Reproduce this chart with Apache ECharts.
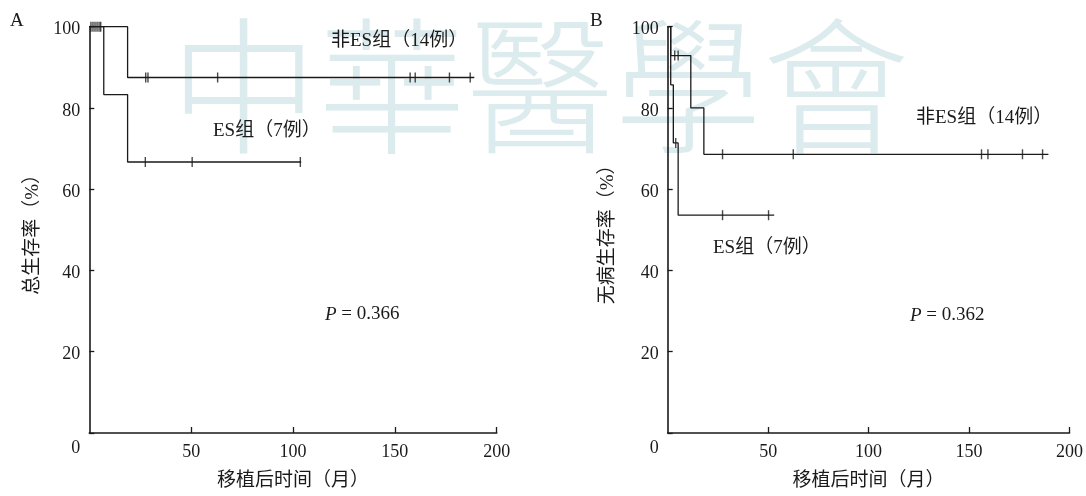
<!DOCTYPE html>
<html>
<head>
<meta charset="utf-8">
<script src="https://cdn.jsdelivr.net/npm/echarts@6/dist/echarts.min.js"></script>
<style>
html,body{margin:0;padding:0;background:#fff;}
#chart{width:1086px;height:496px;}
</style>
</head>
<body>
<div id="chart"></div>
<script>
// ---- Data ----
var xTicks = [0, 50, 100, 150, 200];
var yTicks = [0, 20, 40, 60, 80, 100];

// Panel A: overall survival
var osNonES = [[0, 100], [18.8, 87.5], [189, 87.5]];
var osNonESCensor = [[0.8, 100], [1.8, 100], [2.8, 100], [3.8, 100], [4.8, 100], [5.6, 100],
  [27.7, 87.5], [28.8, 87.5], [63, 87.5], [157.5, 87.5], [160, 87.5], [176.8, 87.5], [187, 87.5]];
var osES = [[0, 100], [7.1, 83.3], [18.8, 66.7], [104, 66.7]];
var osESCensor = [[27.5, 66.7], [50.5, 66.7], [103.6, 66.7]];

// Panel B: disease-free survival
var dfsNonES = [[0, 100], [1.5, 92.9], [11.5, 80], [18, 68.6], [189.5, 68.6]];
var dfsNonESCensor = [[3.5, 92.9], [5.2, 92.9], [27.3, 68.6], [62.5, 68.6], [156.2, 68.6],
  [159.4, 68.6], [176.6, 68.6], [186.6, 68.6]];
var dfsES = [[0, 100], [1.5, 85.7], [2.8, 71.4], [5.2, 53.6], [53, 53.6]];
var dfsESCensor = [[4, 71.4], [27.3, 53.6], [50.2, 53.6]];

var panelLetters = ['A', 'B'];
var yNames = ['总生存率（%）', '无病生存率（%）'];
var xName = '移植后时间（月）';
var nonESLabel = '非ES组（14例）';
var esLabel = 'ES组（7例）';
var pValues = ['0.366', '0.362'];

// ---- Styling ----
var INK = '#1a1a1a';
var FONT = '"Liberation Serif", "Noto Sans CJK SC", serif';

var chart = echarts.init(document.getElementById('chart'));

function xAxisDef(idx) {
  return {
    type: 'value', gridIndex: idx, min: xTicks[0], max: xTicks[xTicks.length - 1],
    interval: xTicks[1] - xTicks[0],
    name: xName, nameLocation: 'middle', nameGap: 39,
    nameTextStyle: {fontFamily: FONT, fontSize: 19, color: INK},
    axisLine: {show: true, lineStyle: {color: INK, width: 1.6}},
    axisTick: {show: true, inside: true, length: 6, lineStyle: {color: INK, width: 1.3}},
    axisLabel: {showMinLabel: false, margin: 10, fontFamily: FONT, fontSize: 18, color: INK},
    splitLine: {show: false}
  };
}
function yAxisDef(idx, gap) {
  return {
    type: 'value', gridIndex: idx, min: yTicks[0], max: yTicks[yTicks.length - 1],
    interval: yTicks[1] - yTicks[0],
    name: yNames[idx], nameLocation: 'middle', nameGap: gap, nameRotate: 90,
    nameTextStyle: {fontFamily: FONT, fontSize: 19, color: INK},
    axisLine: {show: true, lineStyle: {color: INK, width: 1.6}},
    axisTick: {show: true, inside: true, length: 5, lineStyle: {color: INK, width: 1.3}},
    axisLabel: {
      margin: 9, fontFamily: FONT, fontSize: 18, color: INK,
      formatter: function (v) { return v === 0 ? '{z|0}' : '{n|' + v + '}'; },
      rich: {
        z: {fontFamily: FONT, fontSize: 18, color: INK, padding: [30, 0, 0, 0]},
        n: {fontFamily: FONT, fontSize: 18, color: INK, padding: [6, 0, 0, 0]}
      }
    },
    splitLine: {show: false}
  };
}
function stepLine(idx, data) {
  return {
    type: 'line', xAxisIndex: idx, yAxisIndex: idx, step: 'end', data: data,
    symbol: 'none', lineStyle: {color: INK, width: 1.3}, silent: true, z: 3
  };
}
function censor(idx, data) {
  return {
    type: 'scatter', xAxisIndex: idx, yAxisIndex: idx, data: data,
    symbol: 'rect', symbolSize: [1.4, 10], itemStyle: {color: INK}, silent: true, z: 4
  };
}

function label(x, y, s) {
  return {type: 'text', left: x, top: y, z: 10,
    style: {text: s, fontFamily: FONT, fontSize: 19, fill: INK}};
}
function pText(x, y, val) {
  return {type: 'text', left: x, top: y, z: 10,
    style: {
      text: '{p|P} = ' + val, fontFamily: FONT, fontSize: 19, fill: INK,
      rich: {p: {fontFamily: FONT, fontSize: 19, fontStyle: 'italic', fill: INK}}
    }};
}

var option = {
  animation: false,
  backgroundColor: '#fff',
  grid: [
    {left: 89.3, top: 26.7, width: 407.4, height: 406.3},
    {left: 667.7, top: 26.7, width: 407.3, height: 406.6}
  ],
  xAxis: [xAxisDef(0), xAxisDef(1)],
  yAxis: [yAxisDef(0, 47), yAxisDef(1, 50)],
  graphic: [
    {type: 'text', left: 170, top: 12, z: 0, silent: true,
      style: {text: '中華醫學會', fontFamily: '"Noto Sans CJK TC"', fontWeight: 300, fontSize: 148, fill: '#dcebed'}},
    label(10, 12, panelLetters[0]),
    label(590, 12, panelLetters[1]),
    label(331, 32, nonESLabel),
    label(213, 122, esLabel),
    label(916, 109, nonESLabel),
    label(713, 239, esLabel),
    pText(325, 305, pValues[0]),
    pText(910, 306, pValues[1])
  ],
  series: [
    stepLine(0, osNonES), censor(0, osNonESCensor),
    stepLine(0, osES), censor(0, osESCensor),
    stepLine(1, dfsNonES), censor(1, dfsNonESCensor),
    stepLine(1, dfsES), censor(1, dfsESCensor)
  ]
};
chart.setOption(option);
</script>
</body>
</html>
